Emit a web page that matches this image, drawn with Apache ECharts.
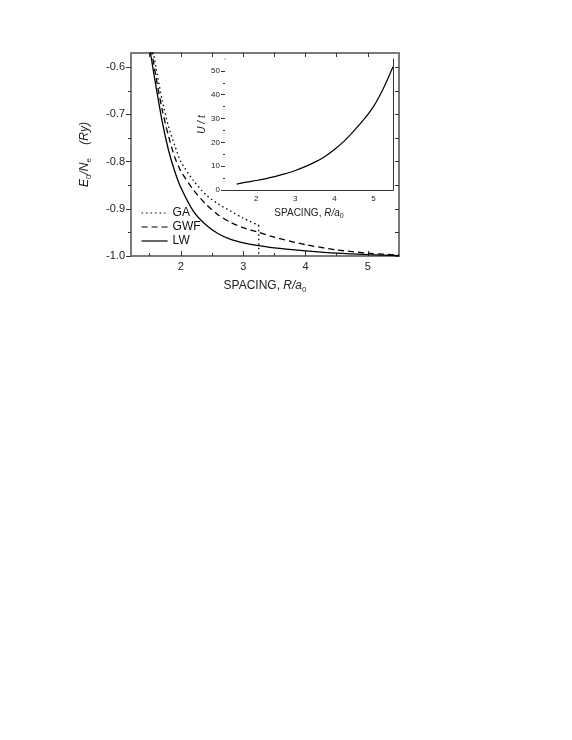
<!DOCTYPE html>
<html>
<head>
<meta charset="utf-8">
<script src="https://cdn.jsdelivr.net/npm/echarts@6/dist/echarts.min.js"></script>
<style>
html,body{margin:0;padding:0;background:#fff;}
#chart{width:572px;height:740px;}
</style>
</head>
<body>
<div id="chart"></div>
<script>
// ---- data ----
const spacingR = [1.5, 1.6, 1.7, 1.8, 1.9, 2.0, 2.2, 2.4, 2.6, 2.8, 3.0, 3.25, 3.5, 4.0, 4.5, 5.0, 5.5];
const lwE  = [-0.560, -0.640, -0.715, -0.775, -0.820, -0.855, -0.905, -0.934, -0.953, -0.965, -0.972, -0.978, -0.983, -0.989, -0.994, -0.997, -0.999];
const gwfE = [-0.540, -0.620, -0.690, -0.745, -0.790, -0.820, -0.860, -0.890, -0.913, -0.929, -0.940, -0.950, -0.960, -0.976, -0.987, -0.994, -0.998];
const gaR  = [1.5, 1.6, 1.7, 1.8, 1.9, 2.0, 2.2, 2.4, 2.6, 2.8, 3.0, 3.25];
const gaE  = [-0.520, -0.600, -0.670, -0.725, -0.765, -0.800, -0.840, -0.870, -0.890, -0.905, -0.920, -0.935];
const gaDropR = [3.25, 3.25];
const gaDropE = [-0.935, -1.0];

const insetR = [1.5, 1.75, 2.0, 2.25, 2.5, 2.75, 3.0, 3.25, 3.5, 3.75, 4.0, 4.25, 4.5, 4.75, 5.0, 5.25, 5.5];
const insetU = [2.5, 3.3, 4.0, 4.8, 5.7, 6.9, 8.2, 9.8, 11.7, 14.0, 17.0, 20.5, 24.8, 29.5, 35.0, 42.5, 51.7];

const xMajor = [2, 3, 4, 5];
const xMinor = [1.5, 2.5, 3.5, 4.5];
const yMajor = [-1.0, -0.9, -0.8, -0.7, -0.6];
const yMinor = [-0.95, -0.85, -0.75, -0.65];
const uMajor = [0, 10, 20, 30, 40, 50];
const uMinor = [5, 15, 25, 35, 45];

const seriesNames = ['GA', 'GWF', 'LW'];

// ---- chart ----
const pair = (xs, ys) => xs.map((x, i) => [x, ys[i]]);
const FONT = 'Liberation Sans, Arial, sans-serif';
const frameGrey = '#7a7a7a';
const tickCol = '#333';

const chart = echarts.init(document.getElementById('chart'), null, {renderer: 'canvas'});

function xAx(grid, opts) {
  return Object.assign({
    type: 'value', gridIndex: grid, min: 1.2, max: 5.5,
    splitLine: {show: false}, axisLabel: {show: false},
    axisLine: {show: false}, axisTick: {show: false}
  }, opts);
}
function yAx(grid, min, max, opts) {
  return Object.assign({
    type: 'value', gridIndex: grid, min: min, max: max,
    splitLine: {show: false}, axisLabel: {show: false},
    axisLine: {show: false}, axisTick: {show: false}
  }, opts);
}

const mainLine = {show: true, onZero: false, lineStyle: {color: frameGrey, width: 2}};
const insetLine = {show: true, onZero: false, lineStyle: {color: '#333', width: 1}};

const option = {
  backgroundColor: '#fff',
  animation: false,
  textStyle: {fontFamily: FONT},
  grid: [
    {left: 131, top: 53, right: 173, bottom: 484},
    {left: 225, top: 59, right: 179, bottom: 550, show: true, backgroundColor: '#fff', borderWidth: 0, z: 5}
  ],
  legend: {
    data: seriesNames,
    orient: 'vertical', left: 141, top: 207, padding: 0,
    itemWidth: 26, itemHeight: 12, itemGap: 2,
    itemStyle: {color: 'rgba(0,0,0,0)', borderColor: 'rgba(0,0,0,0)', borderWidth: 0},
    lineStyle: {width: 1.2},
    textStyle: {fontFamily: FONT, fontSize: 12, color: '#111'}
  },
  xAxis: [
    xAx(0, {position: 'bottom', axisLine: mainLine,
      axisTick: {show: true, inside: true, length: 5, customValues: xMajor, lineStyle: {color: tickCol}},
      axisLabel: {show: true, customValues: xMajor, fontSize: 11, color: '#222', margin: 5},
      name: '{n|SPACING, }{i|R/a}{s|0}', nameLocation: 'middle', nameGap: 22,
      nameTextStyle: {rich: {
        n: {fontSize: 12, fontFamily: FONT, color: '#222', lineHeight: 16},
        i: {fontSize: 12, fontFamily: FONT, fontStyle: 'italic', color: '#222', lineHeight: 16},
        s: {fontSize: 8, fontFamily: FONT, color: '#222', lineHeight: 16, verticalAlign: 'bottom'}
      }}
    }),
    xAx(0, {position: 'bottom',
      axisTick: {show: true, inside: true, length: 3, customValues: xMinor, lineStyle: {color: tickCol}}}),
    xAx(0, {position: 'top', axisLine: mainLine,
      axisTick: {show: true, inside: true, length: 4, customValues: xMajor.concat(xMinor), lineStyle: {color: tickCol}}}),
    xAx(1, {position: 'bottom', axisLine: insetLine,
      axisTick: {show: true, inside: true, length: 4, customValues: xMajor, lineStyle: {color: tickCol}},
      axisLabel: {show: true, customValues: xMajor, fontSize: 8, color: '#222', margin: 5},
      name: '{n|SPACING, }{i|R/a}{s|0}', nameLocation: 'middle', nameGap: 16,
      nameTextStyle: {rich: {
        n: {fontSize: 10, fontFamily: FONT, color: '#222', lineHeight: 14},
        i: {fontSize: 10, fontFamily: FONT, fontStyle: 'italic', color: '#222', lineHeight: 14},
        s: {fontSize: 7, fontFamily: FONT, color: '#222', lineHeight: 14, verticalAlign: 'bottom'}
      }}
    }),
    xAx(1, {position: 'bottom',
      axisTick: {show: true, inside: true, length: 2, customValues: xMinor, lineStyle: {color: tickCol}}}),
    xAx(1, {position: 'top', axisLine: insetLine})
  ],
  yAxis: [
    yAx(0, -1.0, -0.57, {position: 'left', axisLine: mainLine,
      axisTick: {show: true, inside: false, length: 5, customValues: yMajor, lineStyle: {color: tickCol}},
      axisLabel: {show: true, customValues: yMajor, fontSize: 11, color: '#222', margin: 6,
        formatter: v => v.toFixed(1)},
      name: '{i|E}{s|0}{i|/N}{s|e}{i|    (Ry)}', nameLocation: 'middle', nameGap: 38,
      nameTextStyle: {rich: {
        i: {fontSize: 12, fontFamily: FONT, fontStyle: 'italic', color: '#222', lineHeight: 16},
        s: {fontSize: 8, fontFamily: FONT, color: '#222', lineHeight: 16, verticalAlign: 'bottom'}
      }}
    }),
    yAx(0, -1.0, -0.57, {position: 'left',
      axisTick: {show: true, inside: false, length: 3, customValues: yMinor, lineStyle: {color: tickCol}}}),
    yAx(0, -1.0, -0.57, {position: 'right', axisLine: mainLine,
      axisTick: {show: true, inside: true, length: 4, customValues: yMajor.concat(yMinor), lineStyle: {color: tickCol}}}),
    yAx(1, 0, 55, {position: 'left', axisLine: insetLine,
      axisTick: {show: true, inside: false, length: 4, customValues: uMajor, lineStyle: {color: tickCol}},
      axisLabel: {show: true, customValues: uMajor, fontSize: 8, color: '#222', margin: 5},
      name: 'U / t', nameLocation: 'middle', nameGap: 18,
      nameTextStyle: {fontSize: 10, fontFamily: FONT, fontStyle: 'italic', color: '#222'}
    }),
    yAx(1, 0, 55, {position: 'left',
      axisTick: {show: true, inside: false, length: 2, customValues: uMinor, lineStyle: {color: tickCol}}}),
    yAx(1, 0, 55, {position: 'right', axisLine: insetLine})
  ],
  series: [
    {name: 'GA', type: 'line', xAxisIndex: 0, yAxisIndex: 0, data: pair(gaR, gaE),
      showSymbol: false, symbol: 'none', smooth: 0.25, clip: true,
      lineStyle: {color: '#000', width: 1.3, type: [1.5, 3]}, itemStyle: {color: '#000'}},
    {name: 'GA-drop', type: 'line', xAxisIndex: 0, yAxisIndex: 0, data: pair(gaDropR, gaDropE),
      showSymbol: false, symbol: 'none', clip: true,
      lineStyle: {color: '#000', width: 1.3, type: [1.5, 3]}, itemStyle: {color: '#000'}},
    {name: 'GWF', type: 'line', xAxisIndex: 0, yAxisIndex: 0, data: pair(spacingR, gwfE),
      showSymbol: false, symbol: 'none', smooth: 0.25, clip: true,
      lineStyle: {color: '#000', width: 1.3, type: [6, 4]}, itemStyle: {color: '#000'}},
    {name: 'LW', type: 'line', xAxisIndex: 0, yAxisIndex: 0, data: pair(spacingR, lwE),
      showSymbol: false, symbol: 'none', smooth: 0.25, clip: true,
      lineStyle: {color: '#000', width: 1.3, type: 'solid'}, itemStyle: {color: '#000'}},
    {name: 'U/t', type: 'line', xAxisIndex: 3, yAxisIndex: 3, data: pair(insetR, insetU),
      showSymbol: false, symbol: 'none', smooth: 0.3, clip: true, z: 6,
      lineStyle: {color: '#000', width: 1.2}, itemStyle: {color: '#000'}}
  ]
};
chart.setOption(option);
</script>
</body>
</html>
